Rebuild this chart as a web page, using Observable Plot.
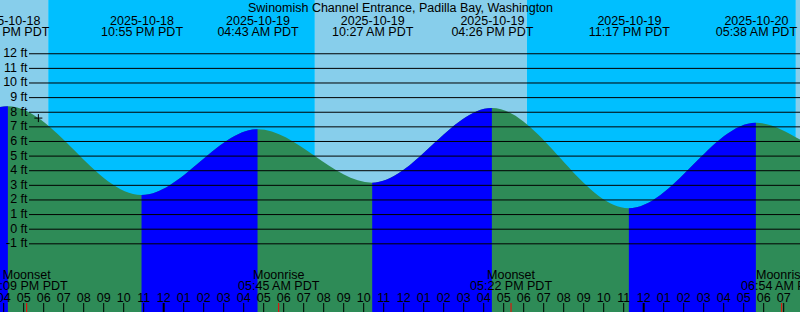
<!DOCTYPE html>
<html><head><meta charset="utf-8">
<script src="https://cdn.jsdelivr.net/npm/d3@7"></script>
<script src="https://cdn.jsdelivr.net/npm/@observablehq/plot@0.6"></script>
<style>html,body{margin:0;padding:0;background:#fff;overflow:hidden;} svg{display:block;}</style>
</head><body><div id="chart"></div>
<script>
const title = "Swinomish Channel Entrance, Padilla Bay, Washington";
const viewStart = "2025-10-18T15:50:24-07:00";
const viewEnd = "2025-10-20T07:50:24-07:00";

// tide curve: window edge, high/low extremes, window edge (heights in ft)
const tideTimes = ["2025-10-18T15:50:24-07:00", "2025-10-18T16:14-07:00", "2025-10-18T22:55-07:00", "2025-10-19T04:43-07:00",
                   "2025-10-19T10:27-07:00", "2025-10-19T16:26-07:00", "2025-10-19T23:17-07:00", "2025-10-20T05:38-07:00",
                   "2025-10-20T07:50:24-07:00"];
const tideHeights = [8.33, 8.37, 2.3, 6.8, 3.15, 8.26, 1.4, 7.25, 6.1];

// labelled extremes (indices into the tide arrays)
const extremeIdx = [1, 2, 3, 4, 5, 6, 7];

const sunTimes = ["2025-10-18T18:15-07:00", "2025-10-19T07:35-07:00", "2025-10-19T18:11-07:00", "2025-10-20T07:38-07:00"];
const sunEvents = ["sunset", "sunrise", "sunset", "sunrise"];

const moonTimes = ["2025-10-18T17:09-07:00", "2025-10-19T05:45-07:00", "2025-10-19T17:22-07:00", "2025-10-20T06:54-07:00"];
const moonEvents = ["Moonset", "Moonrise", "Moonset", "Moonrise"];

const levelTicks = [-1, 0, 1, 2, 3, 4, 5, 6, 7, 8, 9, 10, 11, 12];

const nowTime = "2025-10-18T17:44-07:00";
const nowLevel = 7.6;

const dayColor = "#87ceeb", nightColor = "#00bfff", floodColor = "#0000ff", ebbColor = "#2e8b57";

// ---- derived tables ----
const t0 = new Date(viewStart), t1 = new Date(viewEnd);
const tide = tideTimes.map((t, i) => ({t: new Date(t), h: tideHeights[i]}));
const extremes = extremeIdx.map(i => tide[i]);
const rising = [];
for (let i = 0; i < tide.length - 1; i++) if (tide[i + 1].h > tide[i].h) rising.push([tide[i].t, tide[i + 1].t]);

const bounds = [t0, ...sunTimes.map(t => new Date(t)), t1];
const sky = [];
for (let i = 0; i < bounds.length - 1; i++) {
  const isDay = i === 0 ? sunEvents[0] === "sunset" : sunEvents[i - 1] === "sunrise";
  sky.push({start: bounds[i], end: bounds[i + 1], color: isDay ? dayColor : nightColor});
}
const moon = moonTimes.map((t, i) => ({t: new Date(t), event: moonEvents[i]}));

const toPDT = d => new Date(+d - 7 * 3600e3);
const fmtDate = d => d3.utcFormat("%Y-%m-%d")(toPDT(d));
const fmtTime = d => d3.utcFormat("%I:%M %p")(toPDT(d)) + " PDT";
const hours = d3.utcHour.range(t0, t1);
const isMidnight = d => toPDT(d).getUTCHours() === 0;

const yDomain = [-5.698, 15.643];
const font = "'Liberation Sans', Arial, Helvetica, sans-serif";
const fs = 12.5;
const ns = "http://www.w3.org/2000/svg";

// clip the flood-coloured copy of the area to the rising intervals
function floodClip(index, scales, values, dims, context, next) {
  const g = next(index, scales, values, dims, context);
  const wrap = document.createElementNS(ns, "g");
  const cp = document.createElementNS(ns, "clipPath");
  cp.setAttribute("id", "flood-clip");
  for (const [a, b] of rising) {
    const r = document.createElementNS(ns, "rect");
    const xa = scales.x(a), xb = scales.x(b);
    r.setAttribute("x", xa); r.setAttribute("width", xb - xa);
    r.setAttribute("y", 0); r.setAttribute("height", dims.height);
    cp.appendChild(r);
  }
  wrap.appendChild(cp);
  g.setAttribute("clip-path", "url(#flood-clip)");
  wrap.appendChild(g);
  return wrap;
}

const plot = Plot.plot({
  width: 800, height: 312, margin: 0,
  x: {type: "utc", domain: [t0, t1], axis: null},
  y: {domain: yDomain, axis: null},
  color: {type: "identity"},
  style: {fontFamily: font, fontSize: fs + "px", background: "transparent"},
  marks: [
    Plot.rect(sky, {x1: "start", x2: "end", fill: "color"}),
    Plot.areaY(tide, {x: "t", y1: () => yDomain[0], y2: "h", curve: "monotone-x", fill: ebbColor}),
    Plot.areaY(tide, {x: "t", y1: () => yDomain[0], y2: "h", curve: "monotone-x", fill: floodColor, render: floodClip}),
    Plot.ruleY(levelTicks, {y: d => d, stroke: "black", strokeWidth: 1, insetLeft: 29}),
    Plot.text(levelTicks, {y: d => d, text: d => `${d} ft`, frameAnchor: "left", textAnchor: "end", dx: 27, dy: -0.5, fill: "black", fontSize: fs}),
    Plot.ruleX(hours, {x: d => d, insetTop: 303, stroke: "black", strokeWidth: d => isMidnight(d) ? 2 : 1}),
    Plot.ruleX(moon, {x: "t", insetTop: 303, stroke: "red", strokeWidth: 1}),
    Plot.text(hours, {x: d => d, text: d => d3.utcFormat("%I")(toPDT(d)), frameAnchor: "bottom", lineAnchor: "bottom", dy: -11, fill: "black", fontSize: fs}),
    Plot.text(moon, {x: "t", text: "event", frameAnchor: "bottom", lineAnchor: "bottom", dy: -33.7, fill: "black", fontSize: fs}),
    Plot.text(moon, {x: "t", text: d => fmtTime(d.t), frameAnchor: "bottom", lineAnchor: "bottom", dy: -22.7, fill: "black", fontSize: fs}),
    Plot.text(extremes, {x: "t", text: d => fmtDate(d.t), frameAnchor: "top", lineAnchor: "bottom", dy: 24, fill: "black", fontSize: fs}),
    Plot.text(extremes, {x: "t", text: d => fmtTime(d.t), frameAnchor: "top", lineAnchor: "bottom", dy: 35.7, fill: "black", fontSize: fs}),
    Plot.text([title], {text: d => d, frameAnchor: "top", lineAnchor: "bottom", dy: 11.7, fill: "black", fontSize: fs}),
    Plot.dot([{t: new Date(nowTime), h: nowLevel}], {x: "t", y: "h", symbol: "plus", r: 2.7, stroke: "black", fill: "none", strokeWidth: 1})
  ]
});

document.getElementById("chart").appendChild(plot);
</script>
</body></html>
